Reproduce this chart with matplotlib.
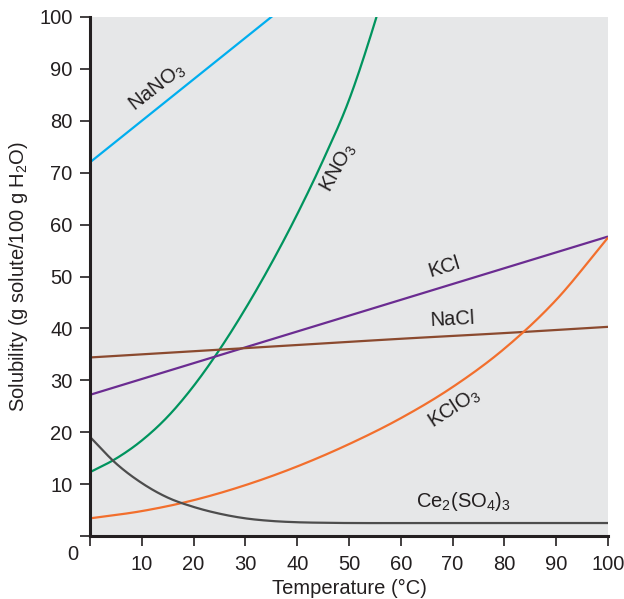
import matplotlib
matplotlib.use("Agg")
import matplotlib.pyplot as plt
import numpy as np

plt.rcParams['font.family'] = ['Liberation Sans', 'DejaVu Sans']
plt.rcParams['mathtext.default'] = 'regular'

# ---- data ----
temp_nano3 = [0, 10, 20, 30, 40]
sol_nano3 = [72, 80, 88, 96, 104]

temp_kno3 = [0, 5, 10, 15, 20, 25, 30, 35, 40, 45, 50, 55, 58]
sol_kno3 = [12.3, 14.9, 18.4, 23.0, 28.9, 35.9, 43.8, 52.5, 62.0, 72.4, 84.0, 99.0, 109]

temp_kcl = [0, 20, 40, 60, 80, 100]
sol_kcl = [27.2, 33.3, 39.4, 45.5, 51.6, 57.7]

temp_nacl = [0, 20, 40, 60, 80, 100]
sol_nacl = [34.4, 35.6, 36.8, 38.0, 39.1, 40.3]

temp_kclo3 = [0, 10, 20, 30, 40, 50, 60, 70, 80, 90, 100]
sol_kclo3 = [3.4, 4.8, 6.9, 9.8, 13.4, 17.7, 22.7, 28.7, 36.1, 45.5, 57.5]

temp_ce = [0, 5, 10, 15, 20, 25, 30, 35, 40, 45, 50, 60, 80, 100]
sol_ce = [19.1, 14.0, 10.2, 7.4, 5.6, 4.3, 3.4, 2.9, 2.65, 2.55, 2.5, 2.5, 2.5, 2.5]

x_ticks = [0, 10, 20, 30, 40, 50, 60, 70, 80, 90, 100]
x_ticklabels = ['', '10', '20', '30', '40', '50', '60', '70', '80', '90', '100']
y_ticks = [0, 10, 20, 30, 40, 50, 60, 70, 80, 90, 100]
y_ticklabels = ['', '10', '20', '30', '40', '50', '60', '70', '80', '90', '100']


def smooth(x, y, n=20):
    """Cubic Hermite through the given points (for a smooth drawn line)."""
    x = np.asarray(x, float)
    y = np.asarray(y, float)
    m = np.gradient(y, x)
    xs, ys = [], []
    for i in range(len(x) - 1):
        h = x[i + 1] - x[i]
        t = np.linspace(0, 1, n, endpoint=False)
        h00 = 2 * t**3 - 3 * t**2 + 1
        h10 = t**3 - 2 * t**2 + t
        h01 = -2 * t**3 + 3 * t**2
        h11 = t**3 - t**2
        xs.append(x[i] + t * h)
        ys.append(h00 * y[i] + h10 * h * m[i] + h01 * y[i + 1] + h11 * h * m[i + 1])
    xs.append([x[-1]])
    ys.append([y[-1]])
    return np.concatenate(xs), np.concatenate(ys)


W, H = 624, 599
FS = 14.5
TXT = '#231F20'
fig = plt.figure(figsize=(W / 100, H / 100), dpi=100)
ax = fig.add_axes([90 / W, 1 - 536 / H, (608 - 90) / W, (536 - 17) / H])
ax.set_facecolor('#E6E7E8')

lw = 1.6
curves = [
    (temp_nano3, sol_nano3, '#00AEEF'),
    (temp_kno3, sol_kno3, '#00945E'),
    (temp_kcl, sol_kcl, '#6B2C91'),
    (temp_nacl, sol_nacl, '#8B4A2F'),
    (temp_kclo3, sol_kclo3, '#F26F2D'),
    (temp_ce, sol_ce, '#4D4D4D'),
]
for tx, sy, c in curves:
    xs, ys = smooth(tx, sy)
    ax.plot(xs, ys, color=c, lw=lw, solid_capstyle='butt')

ax.set_xlim(0, 100)
ax.set_ylim(0, 100)
ax.set_xticks(x_ticks)
ax.set_xticklabels(x_ticklabels)
ax.set_yticks(y_ticks)
ax.set_yticklabels(y_ticklabels)

for s in ['top', 'right']:
    ax.spines[s].set_visible(False)
for s in ['left', 'bottom']:
    ax.spines[s].set_linewidth(2.2)
    ax.spines[s].set_color(TXT)

ax.tick_params(axis='both', direction='out', length=7.5, width=1.2,
               color=TXT, labelsize=FS, labelcolor=TXT)
ax.tick_params(axis='y', pad=5)
ax.tick_params(axis='x', pad=6)

ax.set_xlabel('Temperature (°C)', fontsize=FS, color=TXT, labelpad=4)
ax.set_ylabel('Solubility (g solute/100 g H$_2$O)', fontsize=FS, color=TXT, labelpad=7)

fig.text(73 / W, 1 - 555 / H, '0', fontsize=FS, color=TXT, ha='center', va='center')

lab = dict(fontsize=FS, color=TXT, ha='center', va='center')
ax.text(13.0, 86.5, 'NaNO$_3$', rotation=38, **lab)
ax.text(48.0, 70.9, 'KNO$_3$', rotation=61, **lab)
ax.text(68.3, 51.8, 'KCl', rotation=17, **lab)
ax.text(70.0, 41.8, 'NaCl', rotation=3, **lab)
ax.text(70.2, 24.7, 'KClO$_3$', rotation=33, **lab)
ax.text(72.0, 6.6, 'Ce$_2$(SO$_4$)$_3$', rotation=0, **lab)

fig.savefig('out.png', dpi=100)
